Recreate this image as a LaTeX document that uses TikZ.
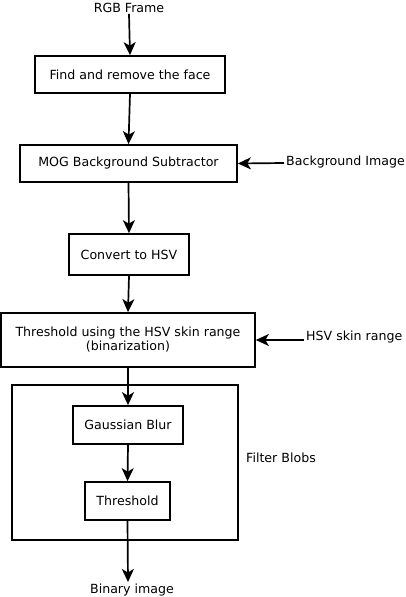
\documentclass[tikz,border=0pt]{standalone}
\usepackage{fontspec}
\setmainfont{DejaVu Sans}
\usetikzlibrary{arrows.meta}
\begin{document}
\begin{tikzpicture}[x=1pt,y=-1pt,
  every node/.style={font=\fontsize{12.6}{15}\selectfont},
  box/.style={draw,line width=1.7pt,minimum width=#1,inner sep=0pt,align=center},
  lbl/.style={inner sep=1pt},
  arr/.style={line width=1.7pt,-{Stealth[length=13pt,width=12pt,inset=3.5pt]}}]
\useasboundingbox (0,0) rectangle (406,597);
\node[lbl] (rgb) at (129,8) {RGB Frame};
\node[box=190pt,minimum height=37pt] (face) at (130,74.5) {Find and remove the face};
\node[box=217pt,minimum height=37pt] (mog) at (128.5,163.5) {MOG Background Subtractor};
\node[lbl,anchor=west] (bg) at (285,162) {Background Image};
\node[box=120pt,minimum height=41pt] (hsv) at (129,254.5) {Convert to HSV};
\node[box=254pt,minimum height=54pt] (thr) at (128,340) {Threshold using the HSV skin range\\[-1pt](binarization)};
\node[lbl,anchor=west] (skin) at (305,337) {HSV skin range};
\node[box=226pt,minimum height=155pt] (filter) at (125,462.5) {};
\node[box=110pt,minimum height=38pt] (blur) at (128,425) {Gaussian Blur};
\node[box=85pt,minimum height=38pt] (th2) at (127.5,501) {Threshold};
\node[lbl,anchor=west] (fb) at (245,458) {Filter Blobs};
\node[lbl] (bin) at (132,590) {Binary image};
\coordinate (bgend) at (284,163);
\coordinate (skinend) at (304,340);
\coordinate (binend) at (128,582);
\draw[arr] (rgb.south) -- (face.north);
\draw[arr] (face.south) -- (mog.north);
\draw[arr] (bgend) -- (mog.east);
\draw[arr] (mog.south) -- (hsv.north);
\draw[arr] (hsv.south) -- (thr.north);
\draw[arr] (skinend) -- (thr.east);
\draw[arr] (thr.south) -- (blur.north);
\draw[arr] (blur.south) -- (th2.north);
\draw[arr] (th2.south) -- (binend);
\end{tikzpicture}
\end{document}
